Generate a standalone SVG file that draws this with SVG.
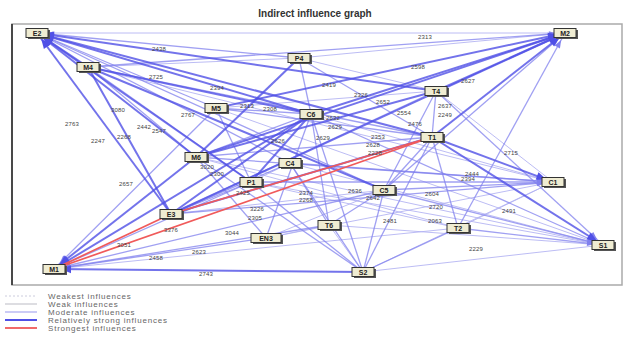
<svg xmlns="http://www.w3.org/2000/svg" width="630" height="338" viewBox="0 0 630 338">
<style>
text{font-family:"Liberation Sans",Arial,sans-serif}
.title{font-size:10px;font-weight:bold;fill:#333}
.s{stroke:#5050e6;stroke-width:2;stroke-opacity:.8;fill:none}
.m{stroke:#8080ee;stroke-width:1.3;stroke-opacity:.75;fill:none}
.w{stroke:#b0b0f2;stroke-width:1;stroke-opacity:.85;fill:none}
.r{stroke:#f05a5a;stroke-width:1.7;fill:none}
.lbl{font-size:6px;fill:#444;letter-spacing:.2px}
.nb{fill:#efecd2;stroke:#333;stroke-width:1}
.ns{fill:#555}
.nt{font-size:7px;font-weight:bold;fill:#222;text-anchor:middle}
.lg{font-size:8px;fill:#666;letter-spacing:.8px}
</style>
<defs>
<marker id="as" markerUnits="userSpaceOnUse" markerWidth="20" markerHeight="10" refX="17" refY="4" orient="auto" overflow="visible"><path d="M0,0 L10,4 L0,8 z" fill="#5050e6"/></marker>
<marker id="am" markerUnits="userSpaceOnUse" markerWidth="20" markerHeight="10" refX="16" refY="3" orient="auto" overflow="visible"><path d="M0,0 L8,3 L0,6 z" fill="#8080ee"/></marker>
</defs>
<rect x="0" y="0" width="630" height="338" fill="#fff"/>
<text class="title" x="315" y="17" text-anchor="middle">Indirect influence graph</text>
<rect x="12" y="24" width="610" height="261" fill="none" stroke="#aaa" stroke-width="1.5"/>
<line x1="12" y1="24" x2="12" y2="285" stroke="#222" stroke-width="1.5"/>

<g id="connectors">
<!-- weak -->
<line class="w" x1="37" y1="33" x2="565" y2="33"/>
<line class="w" x1="299" y1="58" x2="565" y2="33"/>
<line class="w" x1="196" y1="157" x2="603" y2="245"/>
<line class="w" x1="290" y1="163" x2="603" y2="245"/>
<line class="w" x1="251" y1="182" x2="603" y2="245"/>
<line class="w" x1="363" y1="272" x2="603" y2="245"/>
<line class="w" x1="436" y1="91" x2="553" y2="182"/>
<line class="w" x1="88" y1="67" x2="553" y2="182"/>
<line class="w" x1="458" y1="228" x2="553" y2="182"/>
<line class="w" x1="363" y1="272" x2="553" y2="182"/>
<line class="w" x1="266" y1="238" x2="553" y2="182"/>
<line class="w" x1="329" y1="225" x2="603" y2="245"/>
<line class="w" x1="54" y1="269" x2="458" y2="228"/>
<line class="w" x1="311" y1="114" x2="553" y2="182"/>
<line class="w" x1="216" y1="108" x2="603" y2="245"/>
<line class="w" x1="266" y1="238" x2="329" y2="225"/>
<line class="w" x1="329" y1="225" x2="363" y2="272"/>
<line class="w" x1="290" y1="163" x2="251" y2="182"/>
<line class="w" x1="88" y1="67" x2="299" y2="58"/>
<line class="w" x1="216" y1="108" x2="436" y2="91"/>
<line class="w" x1="299" y1="58" x2="436" y2="91"/>
<line class="w" x1="171" y1="214" x2="384" y2="190"/>
<line class="w" x1="251" y1="182" x2="458" y2="228"/>
<line class="w" x1="196" y1="157" x2="458" y2="228"/>
<line class="w" x1="266" y1="238" x2="384" y2="190"/>
<!-- moderate -->
<line class="m" x1="299" y1="58" x2="37" y2="33" marker-end="url(#am)"/>
<line class="m" x1="216" y1="108" x2="37" y2="33" marker-end="url(#am)"/>
<line class="m" x1="384" y1="190" x2="37" y2="33" marker-end="url(#am)"/>
<line class="m" x1="290" y1="163" x2="37" y2="33" marker-end="url(#am)"/>
<line class="m" x1="88" y1="67" x2="565" y2="33" marker-end="url(#am)"/>
<line class="m" x1="384" y1="190" x2="565" y2="33" marker-end="url(#am)"/>
<line class="m" x1="458" y1="228" x2="565" y2="33" marker-end="url(#am)"/>
<line class="m" x1="216" y1="108" x2="54" y2="269" marker-end="url(#am)"/>
<line class="m" x1="251" y1="182" x2="54" y2="269" marker-end="url(#am)"/>
<line class="m" x1="266" y1="238" x2="54" y2="269" marker-end="url(#am)"/>
<line class="m" x1="329" y1="225" x2="54" y2="269" marker-end="url(#am)"/>
<line class="m" x1="384" y1="190" x2="54" y2="269" marker-end="url(#am)"/>
<line class="m" x1="384" y1="190" x2="603" y2="245" marker-end="url(#am)"/>
<line class="m" x1="458" y1="228" x2="603" y2="245" marker-end="url(#am)"/>
<line class="m" x1="311" y1="114" x2="603" y2="245" marker-end="url(#am)"/>
<line class="m" x1="436" y1="91" x2="603" y2="245" marker-end="url(#am)"/>
<line class="m" x1="196" y1="157" x2="553" y2="182" marker-end="url(#am)"/>
<line class="m" x1="290" y1="163" x2="553" y2="182" marker-end="url(#am)"/>
<line class="m" x1="384" y1="190" x2="553" y2="182" marker-end="url(#am)"/>
<line class="m" x1="251" y1="182" x2="553" y2="182" marker-end="url(#am)"/>
<line class="m" x1="171" y1="214" x2="553" y2="182" marker-end="url(#am)"/>
<line class="m" x1="299" y1="58" x2="311" y2="114"/>
<line class="m" x1="216" y1="108" x2="311" y2="114"/>
<line class="m" x1="216" y1="108" x2="251" y2="182"/>
<line class="m" x1="311" y1="114" x2="363" y2="272"/>
<line class="m" x1="311" y1="114" x2="329" y2="225"/>
<line class="m" x1="311" y1="114" x2="266" y2="238"/>
<line class="m" x1="436" y1="91" x2="384" y2="190"/>
<line class="m" x1="436" y1="91" x2="432" y2="137"/>
<line class="m" x1="436" y1="91" x2="171" y2="214"/>
<line class="m" x1="432" y1="137" x2="384" y2="190"/>
<line class="m" x1="432" y1="137" x2="458" y2="228"/>
<line class="m" x1="432" y1="137" x2="363" y2="272"/>
<line class="m" x1="432" y1="137" x2="196" y2="157"/>
<line class="m" x1="88" y1="67" x2="196" y2="157"/>
<line class="m" x1="88" y1="67" x2="251" y2="182"/>
<line class="m" x1="88" y1="67" x2="432" y2="137"/>
<line class="m" x1="196" y1="157" x2="363" y2="272"/>
<line class="m" x1="196" y1="157" x2="266" y2="238"/>
<line class="m" x1="251" y1="182" x2="363" y2="272"/>
<line class="m" x1="290" y1="163" x2="363" y2="272"/>
<line class="m" x1="290" y1="163" x2="329" y2="225"/>
<line class="m" x1="171" y1="214" x2="251" y2="182"/>
<line class="m" x1="171" y1="214" x2="290" y2="163"/>
<line class="m" x1="384" y1="190" x2="329" y2="225"/>
<line class="m" x1="384" y1="190" x2="363" y2="272"/>
<line class="m" x1="458" y1="228" x2="363" y2="272"/>
<line class="m" x1="196" y1="157" x2="311" y2="114"/>
<line class="m" x1="299" y1="58" x2="432" y2="137"/>
<line class="m" x1="216" y1="108" x2="432" y2="137"/>
<!-- strong -->
<line class="s" x1="88" y1="67" x2="37" y2="33" marker-end="url(#as)"/>
<line class="s" x1="171" y1="214" x2="37" y2="33" marker-end="url(#as)"/>
<line class="s" x1="196" y1="157" x2="37" y2="33" marker-end="url(#as)"/>
<line class="s" x1="311" y1="114" x2="37" y2="33" marker-end="url(#as)"/>
<line class="s" x1="436" y1="91" x2="37" y2="33" marker-end="url(#as)"/>
<line class="s" x1="432" y1="137" x2="37" y2="33" marker-end="url(#as)"/>
<line class="s" x1="251" y1="182" x2="37" y2="33" marker-end="url(#as)"/>
<line class="s" x1="216" y1="108" x2="565" y2="33" marker-end="url(#as)"/>
<line class="s" x1="311" y1="114" x2="565" y2="33" marker-end="url(#as)"/>
<line class="s" x1="436" y1="91" x2="565" y2="33" marker-end="url(#as)"/>
<line class="s" x1="432" y1="137" x2="565" y2="33" marker-end="url(#as)"/>
<line class="s" x1="196" y1="157" x2="565" y2="33" marker-end="url(#as)"/>
<line class="s" x1="171" y1="214" x2="565" y2="33" marker-end="url(#as)"/>
<line class="s" x1="196" y1="157" x2="54" y2="269" marker-end="url(#as)"/>
<line class="s" x1="311" y1="114" x2="54" y2="269" marker-end="url(#as)"/>
<line class="s" x1="363" y1="272" x2="54" y2="269" marker-end="url(#as)"/>
<line class="s" x1="432" y1="137" x2="603" y2="245" marker-end="url(#as)"/>
<line class="s" x1="432" y1="137" x2="553" y2="182" marker-end="url(#as)"/>
<line class="s" x1="88" y1="67" x2="171" y2="214"/>
<line class="s" x1="299" y1="58" x2="196" y2="157"/>
<line class="s" x1="311" y1="114" x2="251" y2="182"/>
<line class="s" x1="311" y1="114" x2="171" y2="214"/>
<line class="s" x1="436" y1="91" x2="196" y2="157"/>
<line class="s" x1="88" y1="67" x2="384" y2="190"/>
<line class="s" x1="432" y1="137" x2="171" y2="214"/>
<line class="s" x1="88" y1="67" x2="311" y2="114"/>
<!-- strongest -->
<line class="r" x1="171" y1="214" x2="54" y2="269"/>
<line class="r" x1="171" y1="214" x2="432" y2="137"/>
<line class="r" x1="54" y1="269" x2="432" y2="137"/>
</g>

<g id="edge-labels">
<text class="lbl" x="152" y="51">2438</text>
<text class="lbl" x="418" y="39">2313</text>
<text class="lbl" x="411" y="69">2598</text>
<text class="lbl" x="461" y="83">2627</text>
<text class="lbl" x="149" y="79">2725</text>
<text class="lbl" x="210" y="90">2394</text>
<text class="lbl" x="322" y="87">2419</text>
<text class="lbl" x="354" y="97">2326</text>
<text class="lbl" x="376" y="104">2652</text>
<text class="lbl" x="438" y="108">2637</text>
<text class="lbl" x="438" y="117">2249</text>
<text class="lbl" x="397" y="115">2554</text>
<text class="lbl" x="408" y="126">2476</text>
<text class="lbl" x="181" y="117">2767</text>
<text class="lbl" x="240" y="108">2313</text>
<text class="lbl" x="263" y="111">2308</text>
<text class="lbl" x="111" y="112">3080</text>
<text class="lbl" x="65" y="126">2763</text>
<text class="lbl" x="137" y="129">2442</text>
<text class="lbl" x="152" y="133">2547</text>
<text class="lbl" x="117" y="139">2268</text>
<text class="lbl" x="91" y="143">2247</text>
<text class="lbl" x="326" y="120">2632</text>
<text class="lbl" x="328" y="129">2629</text>
<text class="lbl" x="371" y="139">2353</text>
<text class="lbl" x="366" y="147">2628</text>
<text class="lbl" x="368" y="155">2228</text>
<text class="lbl" x="504" y="155">2715</text>
<text class="lbl" x="465" y="176">2444</text>
<text class="lbl" x="461" y="181">2394</text>
<text class="lbl" x="502" y="213">2491</text>
<text class="lbl" x="383" y="223">2481</text>
<text class="lbl" x="469" y="251">2229</text>
<text class="lbl" x="199" y="276">2743</text>
<text class="lbl" x="149" y="260">2458</text>
<text class="lbl" x="192" y="254">2623</text>
<text class="lbl" x="117" y="247">3051</text>
<text class="lbl" x="225" y="235">3044</text>
<text class="lbl" x="164" y="232">3376</text>
<text class="lbl" x="248" y="220">2305</text>
<text class="lbl" x="250" y="211">3226</text>
<text class="lbl" x="119" y="186">2657</text>
<text class="lbl" x="348" y="193">2636</text>
<text class="lbl" x="366" y="200">2642</text>
<text class="lbl" x="428" y="223">2063</text>
<text class="lbl" x="425" y="196">2604</text>
<text class="lbl" x="429" y="209">2720</text>
<text class="lbl" x="299" y="195">2374</text>
<text class="lbl" x="299" y="202">2268</text>
<text class="lbl" x="236" y="195">2425</text>
<text class="lbl" x="210" y="176">2300</text>
<text class="lbl" x="200" y="169">3020</text>
<text class="lbl" x="271" y="143">2626</text>
<text class="lbl" x="316" y="140">2629</text>
</g>

<g id="E2"><rect class="ns" x="28" y="30" width="22" height="9"/><rect class="nb" x="26" y="28.5" width="22" height="9"/><text class="nt" x="37" y="35.5">E2</text></g>
<g id="M4"><rect class="ns" x="79" y="64" width="22" height="9"/><rect class="nb" x="77" y="62.5" width="22" height="9"/><text class="nt" x="88" y="69.5">M4</text></g>
<g id="P4"><rect class="ns" x="290" y="55" width="22" height="9"/><rect class="nb" x="288" y="53.5" width="22" height="9"/><text class="nt" x="299" y="60.5">P4</text></g>
<g id="M2"><rect class="ns" x="556" y="30" width="22" height="9"/><rect class="nb" x="554" y="28.5" width="22" height="9"/><text class="nt" x="565" y="35.5">M2</text></g>
<g id="M5"><rect class="ns" x="207" y="105" width="22" height="9"/><rect class="nb" x="205" y="103.5" width="22" height="9"/><text class="nt" x="216" y="110.5">M5</text></g>
<g id="C6"><rect class="ns" x="302" y="111" width="22" height="9"/><rect class="nb" x="300" y="109.5" width="22" height="9"/><text class="nt" x="311" y="116.5">C6</text></g>
<g id="T4"><rect class="ns" x="427" y="88" width="22" height="9"/><rect class="nb" x="425" y="86.5" width="22" height="9"/><text class="nt" x="436" y="93.5">T4</text></g>
<g id="T1"><rect class="ns" x="423" y="134" width="22" height="9"/><rect class="nb" x="421" y="132.5" width="22" height="9"/><text class="nt" x="432" y="139.5">T1</text></g>
<g id="M6"><rect class="ns" x="187" y="154" width="22" height="9"/><rect class="nb" x="185" y="152.5" width="22" height="9"/><text class="nt" x="196" y="159.5">M6</text></g>
<g id="C4"><rect class="ns" x="281" y="160" width="22" height="9"/><rect class="nb" x="279" y="158.5" width="22" height="9"/><text class="nt" x="290" y="165.5">C4</text></g>
<g id="P1"><rect class="ns" x="242" y="179" width="22" height="9"/><rect class="nb" x="240" y="177.5" width="22" height="9"/><text class="nt" x="251" y="184.5">P1</text></g>
<g id="C5"><rect class="ns" x="375" y="187" width="22" height="9"/><rect class="nb" x="373" y="185.5" width="22" height="9"/><text class="nt" x="384" y="192.5">C5</text></g>
<g id="C1"><rect class="ns" x="544" y="179" width="22" height="9"/><rect class="nb" x="542" y="177.5" width="22" height="9"/><text class="nt" x="553" y="184.5">C1</text></g>
<g id="E3"><rect class="ns" x="162" y="211" width="22" height="9"/><rect class="nb" x="160" y="209.5" width="22" height="9"/><text class="nt" x="171" y="216.5">E3</text></g>
<g id="T6"><rect class="ns" x="320" y="222" width="22" height="9"/><rect class="nb" x="318" y="220.5" width="22" height="9"/><text class="nt" x="329" y="227.5">T6</text></g>
<g id="EN3"><rect class="ns" x="253" y="235" width="30" height="9"/><rect class="nb" x="251" y="233.5" width="30" height="9"/><text class="nt" x="266" y="240.5">EN3</text></g>
<g id="T2"><rect class="ns" x="449" y="225" width="22" height="9"/><rect class="nb" x="447" y="223.5" width="22" height="9"/><text class="nt" x="458" y="230.5">T2</text></g>
<g id="S1"><rect class="ns" x="594" y="242" width="22" height="9"/><rect class="nb" x="592" y="240.5" width="22" height="9"/><text class="nt" x="603" y="247.5">S1</text></g>
<g id="M1"><rect class="ns" x="45" y="266" width="22" height="9"/><rect class="nb" x="43" y="264.5" width="22" height="9"/><text class="nt" x="54" y="271.5">M1</text></g>
<g id="S2"><rect class="ns" x="354" y="269" width="22" height="9"/><rect class="nb" x="352" y="267.5" width="22" height="9"/><text class="nt" x="363" y="274.5">S2</text></g>

<g id="legend">
<line x1="5" y1="296" x2="37" y2="296" stroke="#ccccdd" stroke-width="1" stroke-dasharray="2 2"/>
<line x1="5" y1="304" x2="37" y2="304" stroke="#bbbbc4" stroke-width="1"/>
<line x1="5" y1="312" x2="37" y2="312" stroke="#a8a8f0" stroke-width="1.2"/>
<line x1="5" y1="320" x2="37" y2="320" stroke="#5050e6" stroke-width="2"/>
<line x1="5" y1="328" x2="37" y2="328" stroke="#f05a5a" stroke-width="1.8"/>
<text class="lg" x="48" y="299">Weakest influences</text>
<text class="lg" x="48" y="307">Weak influences</text>
<text class="lg" x="48" y="315">Moderate influences</text>
<text class="lg" x="48" y="323">Relatively strong influences</text>
<text class="lg" x="48" y="331">Strongest influences</text>
</g>
</svg>
